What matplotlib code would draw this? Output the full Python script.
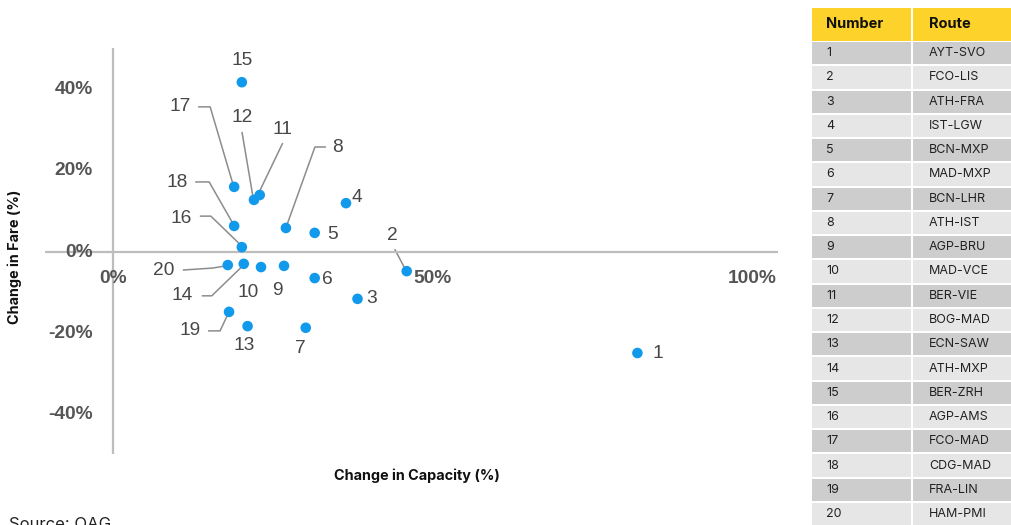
import matplotlib
matplotlib.use("Agg")
import matplotlib.pyplot as plt
from matplotlib.patches import Rectangle

# ---- data -------------------------------------------------------------
route_ids = [str(i) for i in range(1, 21)]
routes = ["AYT-SVO", "FCO-LIS", "ATH-FRA", "IST-LGW", "BCN-MXP", "MAD-MXP",
          "BCN-LHR", "ATH-IST", "AGP-BRU", "MAD-VCE", "BER-VIE", "BOG-MAD",
          "ECN-SAW", "ATH-MXP", "BER-ZRH", "AGP-AMS", "FCO-MAD", "CDG-MAD",
          "FRA-LIN", "HAM-PMI"]
capacity_change = [82.1, 46.0, 38.3, 36.5, 31.6, 31.6, 30.2, 27.1, 26.8, 23.2,
                   23.0, 22.1, 21.1, 20.5, 20.2, 20.2, 19.0, 19.0, 18.2, 18.0]
fare_change = [-24.8, -4.7, -11.5, 12.0, 4.7, -6.4, -18.6, 5.9, -3.4, -3.7,
               14.0, 12.8, -18.2, -2.9, 41.7, 1.2, 16.0, 6.4, -14.7, -3.2]
x_ticks = [0, 50, 100]
y_ticks = [40, 20, 0, -20, -40]

# ---- layout (pixel offsets from each point, y downwards) -------------
label_offsets = {
    "1": (20, 0), "2": (-14, -36), "3": (14, 0), "4": (11, -6), "5": (18, 2),
    "6": (13, 1), "7": (-5, 21), "8": (52, -80), "9": (-7, 25), "10": (-13, 25),
    "11": (23, -66), "12": (-12, -82), "13": (-3, 19), "14": (-62, 32),
    "15": (0, -22), "16": (-61, -29), "17": (-54, -80), "18": (-57, -43),
    "19": (-39, 19), "20": (-64, 5),
}
leaders = {
    "17": [(-36, -80), (-24, -80), (-1, -2)],
    "12": [(-12, -68), (-1, -3)],
    "11": [(23, -52), (-1, -2)],
    "8": [(40, -81), (29, -81), (1, -3)],
    "18": [(-39, -44), (-25, -44), (-1, -2)],
    "16": [(-42, -31), (-31, -31), (-1, -2)],
    "20": [(-45, 5), (-15, 3), (-3, 1)],
    "14": [(-42, 32), (-32, 32), (-2, 3)],
    "19": [(-21, 19), (-9, 19), (-1, 2)],
    "2": [(-12, -22), (-2, -3)],
}

W, H = 1011, 525
fig = plt.figure(figsize=(W / 100, H / 100), dpi=100)
fig.patch.set_facecolor("white")

# full-figure canvas in pixel units (y downwards) for the table and notes
canvas = fig.add_axes([0, 0, 1, 1], zorder=0)
canvas.set_xlim(0, W)
canvas.set_ylim(H, 0)
canvas.axis("off")

# scatter axes
ax = fig.add_axes([45 / W, 1 - 454 / H, 733 / W, 406 / H], zorder=1)
ax.patch.set_alpha(0)
ax.set_xlim(-10.6, 104.1)
ax.set_ylim(-49.6, 50.1)
for s in ax.spines.values():
    s.set_visible(False)
ax.set_xticks([])
ax.set_yticks([])

axis_col = "#BDBDBD"
ax.axhline(0, color=axis_col, lw=1.6, zorder=1)
ax.axvline(0, color=axis_col, lw=1.6, zorder=1)

tick_font = dict(family="Liberation Sans", fontsize=13.8, fontweight="bold",
                 color="#555555")
for v in y_ticks:
    ax.annotate(f"{v}%", (0, v), xytext=(-20, 0), textcoords="offset pixels",
                ha="right", va="center", **tick_font)
for v in x_ticks:
    ax.annotate(f"{v}%", (v, 0), xytext=(0, -26), textcoords="offset pixels",
                ha="center", va="center", **tick_font)

ax.scatter(capacity_change, fare_change, s=58, color="#1199EC",
           edgecolors="none", zorder=3, clip_on=False)

fig.canvas.draw()
for rid, xv, yv in zip(route_ids, capacity_change, fare_change):
    dx, dy = label_offsets[rid]
    ax.annotate(rid, (xv, yv), xytext=(dx, -dy), textcoords="offset pixels",
                ha="center", va="center", family="Liberation Sans",
                fontsize=13.8, color="#474747", zorder=4)
    if rid in leaders:
        px, py = ax.transData.transform((xv, yv))
        xs = [px + ox for ox, oy in leaders[rid]]
        ys = [H - (py - oy) for ox, oy in leaders[rid]]
        canvas.plot(xs, ys, color="#8C8C8C", lw=1.1, solid_capstyle="butt",
                    zorder=2)

# axis titles
canvas.text(417, 476, "Change in Capacity (%)", ha="center", va="center",
            family="Inter", fontweight="bold", fontsize=10.4, color="#111111")
canvas.text(15, 257, "Change in Fare (%)", ha="center", va="center",
            rotation=90, family="Inter", fontweight="bold", fontsize=10.4,
            color="#111111")

# source note along the bottom edge
canvas.text(9, 517, "Source: OAG", ha="left", va="top", family="Inter",
            fontsize=12, color="#222222")

# ---- route table -------------------------------------------------------
col_x = [812, 913]
col_w = [99, 98]
head_top, head_h = 8, 33
row_h = 24.26
yellow = "#FDD22A"
for cx, cw in zip(col_x, col_w):
    canvas.add_patch(Rectangle((cx, head_top), cw, head_h, facecolor=yellow,
                               edgecolor="none"))
canvas.text(col_x[0] + 14, head_top + head_h / 2, "Number", ha="left",
            va="center", family="Inter", fontweight="bold", fontsize=10.5,
            color="#111111")
canvas.text(col_x[1] + 16, head_top + head_h / 2, "Route", ha="left",
            va="center", family="Inter", fontweight="bold", fontsize=10.5,
            color="#111111")

for i, (rid, rt) in enumerate(zip(route_ids, routes)):
    top = head_top + head_h + i * row_h
    shade = "#CDCDCD" if i % 2 == 0 else "#E6E6E6"
    for cx, cw in zip(col_x, col_w):
        canvas.add_patch(Rectangle((cx, top + 1), cw, row_h - 2,
                                   facecolor=shade, edgecolor="none"))
    canvas.text(col_x[0] + 14, top + row_h / 2, rid, ha="left", va="center",
                family="Inter", fontsize=9, color="#222222")
    canvas.text(col_x[1] + 16, top + row_h / 2, rt, ha="left", va="center",
                family="Inter", fontsize=9, color="#222222")

fig.savefig("out.png", dpi=100)
